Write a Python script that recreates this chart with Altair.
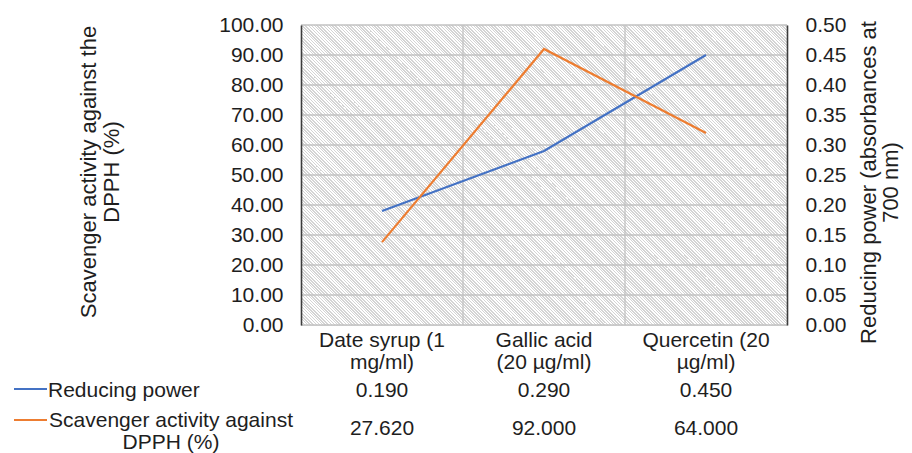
import altair as alt
import pandas as pd

# ---------------- data ----------------
categories = ["Date syrup (1 mg/ml)", "Gallic acid (20 µg/ml)", "Quercetin (20 µg/ml)"]
category_labels = ["Date syrup (1\nmg/ml)", "Gallic acid\n(20 µg/ml)", "Quercetin (20\nµg/ml)"]
reducing_power = [0.190, 0.290, 0.450]
scavenger = [27.620, 92.000, 64.000]
left_ticks = [0, 10, 20, 30, 40, 50, 60, 70, 80, 90, 100]
right_ticks = [0.0, 0.05, 0.10, 0.15, 0.20, 0.25, 0.30, 0.35, 0.40, 0.45, 0.50]
series_names = ["Reducing power", "Scavenger activity against\nDPPH (%)"]
left_title = ["Scavenger activity against the", "DPPH (%)"]
right_title = ["Reducing power (absorbances at", "700 nm)"]

# ---------------- style ----------------
W, H = 486, 300
BLUE = "#4472C4"
ORANGE = "#ED7D31"
TXT = "#1e1e1e"
GRID = "#c2c2c2"
AXIS = "#3c3c3c"
STRIPE = "#d4d4d4"
FONT = "Liberation Sans"
FS = 21

df = pd.DataFrame({"cat": categories, "label": category_labels,
                   "rp": reducing_power, "sc": scavenger})

xscale = alt.Scale(type="band", domain=categories, paddingInner=0, paddingOuter=0)
x_c = alt.X("cat:N", sort=categories, scale=xscale, axis=None, bandPosition=0.5)
x_edge = alt.X("cat:N", sort=categories, scale=xscale, axis=None, bandPosition=0)

# hatched background (diagonal stripes via a hard-stop linear gradient)
n = (W + H) // 3
r = H / W
s = (1 + r) / (1 + r * r)
stops = []
for k in range(n):
    a = round(k / n, 6)
    b = round((k + 0.4) / n, 6)
    c = round((k + 1) / n, 6)
    stops += [alt.GradientStop(offset=a, color=STRIPE),
              alt.GradientStop(offset=b, color=STRIPE),
              alt.GradientStop(offset=b, color="#ffffff"),
              alt.GradientStop(offset=c, color="#ffffff")]
grad = alt.LinearGradient(gradient="linear", stops=stops,
                          x1=0, y1=1, x2=round(s, 6), y2=round(1 - r * s, 6))

bg = alt.Chart(alt.Data(values=[{"a": 1}])).mark_rect(fill=grad, strokeWidth=0).encode(
    x=alt.value(0), x2=alt.value(W), y=alt.value(0), y2=alt.value(H))

grid_h = alt.Chart(pd.DataFrame({"v": left_ticks})).mark_rule(
    color=GRID, strokeWidth=1.3).encode(
    y=alt.Y("v:Q", scale=alt.Scale(domain=[0, 100], nice=False), axis=None),
    x=alt.value(0), x2=alt.value(W))

grid_v = alt.Chart(df.iloc[1:]).mark_rule(color=GRID, strokeWidth=1.3).encode(
    x=x_edge, y=alt.value(0), y2=alt.value(H))

axis_common = dict(domainColor=AXIS, domainWidth=1.6, ticks=False, tickSize=0,
                   grid=False, labelFontSize=FS, labelColor=TXT, labelFont=FONT,
                   labelPadding=18, titleFont=FONT, titleFontSize=22,
                   titleFontWeight="normal", titleColor=TXT, titleAngle=270,
                   titleAlign="center", titleBaseline="alphabetic", zindex=1,
                   format=".2f")

blue = alt.Chart(df).mark_line(color=BLUE, strokeWidth=2.2).encode(
    x=x_c,
    y=alt.Y("rp:Q", scale=alt.Scale(domain=[0, 0.5], nice=False),
            axis=alt.Axis(orient="right", values=right_ticks,
                          title=[right_title[0], "\u00a0" * 10 + right_title[1]],
                          titleX=88, titleY=157, titleLineHeight=22,
                          **axis_common)))

orange = alt.Chart(df).mark_line(color=ORANGE, strokeWidth=2.2).encode(
    x=x_c,
    y=alt.Y("sc:Q", scale=alt.Scale(domain=[0, 100], nice=False),
            axis=alt.Axis(orient="left", values=left_ticks, title=left_title,
                          titleX=-205.5, titleY=146.5, titleLineHeight=23,
                          **axis_common)))

txt = dict(font=FONT, fontSize=FS, color=TXT, baseline="alphabetic", lineBreak="\n")

cat_text = alt.Chart(df).mark_text(align="center", lineHeight=21.5, **txt).encode(
    x=x_c, y=alt.value(322), text="label:N")

rp_text = alt.Chart(df).mark_text(align="center", **txt).encode(
    x=x_c, y=alt.value(372), text=alt.Text("rp:Q", format=".3f"))

sc_text = alt.Chart(df).mark_text(align="center", **txt).encode(
    x=x_c, y=alt.value(410), text=alt.Text("sc:Q", format=".3f"))

one = alt.Data(values=[{"a": 1}])
key_blue = alt.Chart(one).mark_rule(color=BLUE, strokeWidth=2).encode(
    x=alt.value(-287), x2=alt.value(-254), y=alt.value(364))
key_orange = alt.Chart(one).mark_rule(color=ORANGE, strokeWidth=2).encode(
    x=alt.value(-287), x2=alt.value(-254), y=alt.value(395))

name_blue = alt.Chart(one).mark_text(align="left", **txt).encode(
    x=alt.value(-253), y=alt.value(372), text=alt.value(series_names[0]))
name_orange = alt.Chart(one).mark_text(align="center", lineHeight=22, **txt).encode(
    x=alt.value(-130), y=alt.value(402), text=alt.value(series_names[1]))

chart = alt.layer(
    bg, grid_h, grid_v, blue, orange, cat_text, rp_text, sc_text,
    key_blue, key_orange, name_blue, name_orange
).resolve_scale(y="independent").properties(
    width=W, height=H,
    padding={"left": 293, "top": 17, "right": 117, "bottom": 128},
    autosize=alt.AutoSizeParams(type="none"),
).configure_view(strokeWidth=0).configure(font=FONT, background="#ffffff")

chart.save("out.html", embed_options={"renderer": "svg", "actions": False})
